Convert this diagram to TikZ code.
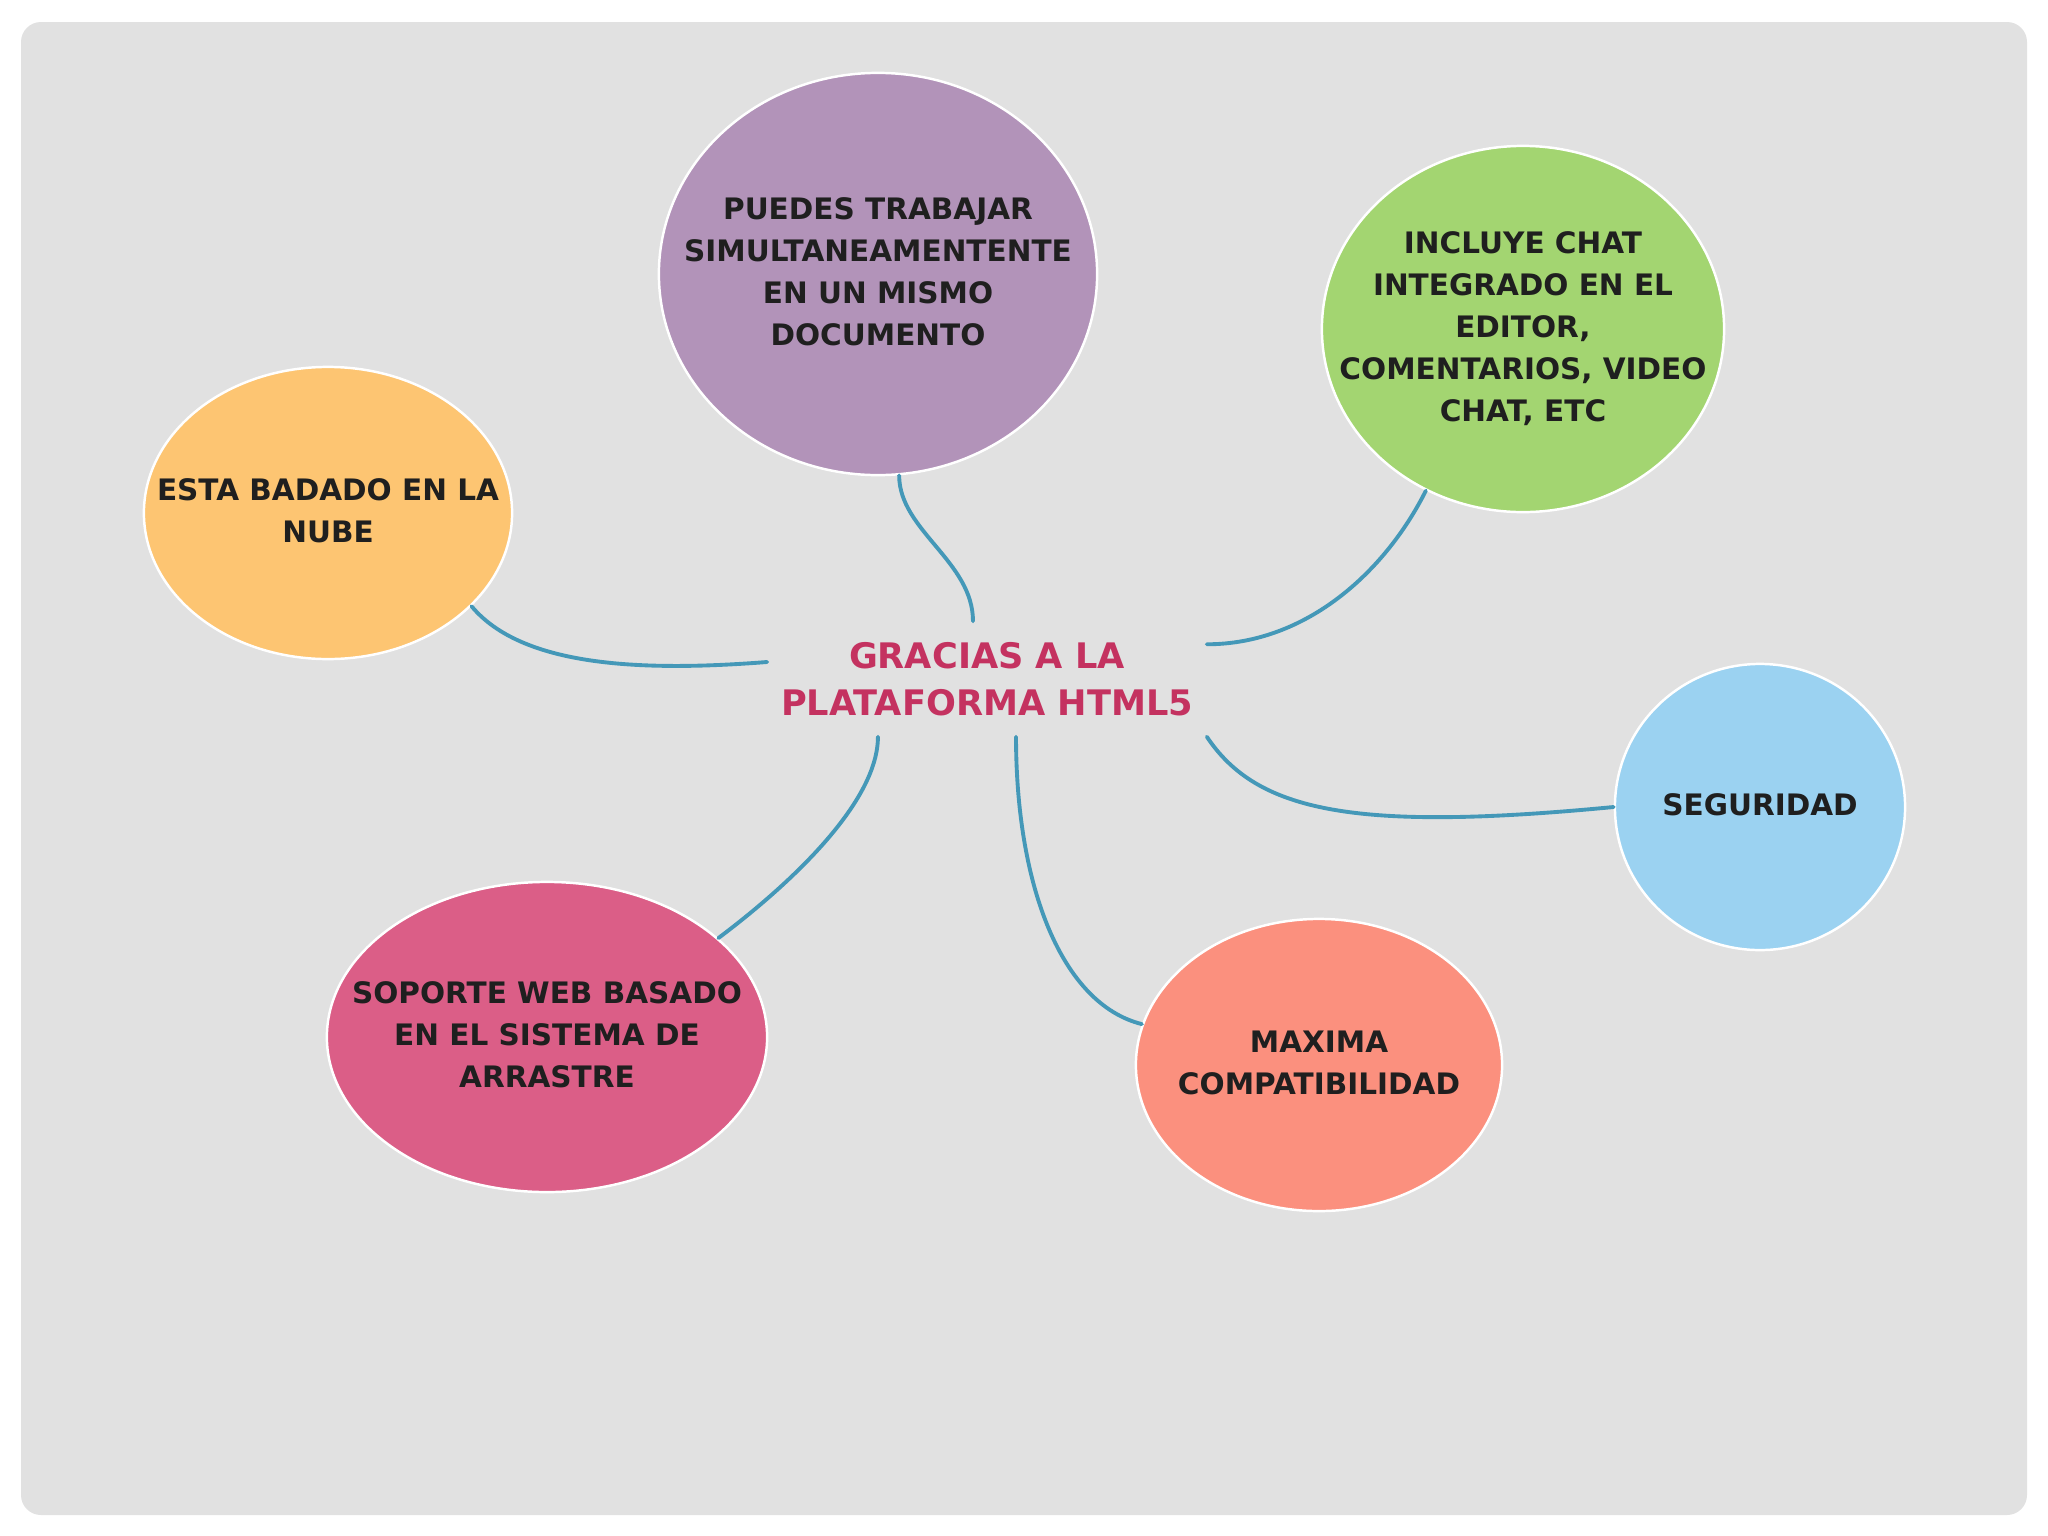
\documentclass[tikz,border=0pt]{standalone}
\usepackage{fontspec}
\setmainfont{DejaVu Sans}
\usepackage{tikz}
\usetikzlibrary{shapes.geometric}
\definecolor{fondo}{HTML}{E1E1E1}
\definecolor{linea}{HTML}{4498B8}
\definecolor{titulo}{HTML}{C43260}
\definecolor{morado}{HTML}{B293B9}
\definecolor{verde}{HTML}{A3D571}
\definecolor{naranja}{HTML}{FDC572}
\definecolor{celeste}{HTML}{9BD2F1}
\definecolor{rosa}{HTML}{DB5E87}
\definecolor{salmon}{HTML}{FB907E}
\newcommand{\burbuja}[1]{\makebox[0pt][c]{\begin{tabular}{@{}c@{}}#1\end{tabular}}}

\begin{document}
\begin{tikzpicture}[x=0.01cm,y=-0.01cm,
			bubble/.style={ellipse,draw=white,line width=0.7pt,inner sep=0pt,text=black!88,font=\bfseries\fontsize{8.4}{11.9}\selectfont},
			hub/.style={rectangle,inner sep=0pt,minimum width=4.38cm,minimum height=1.14cm,align=center,text=titulo,font=\bfseries\fontsize{10}{13.4}\selectfont},
			link/.style={draw=linea,line width=1.1pt,line cap=round}]
			\useasboundingbox (0,0) rectangle (2048,1536);
			\fill[white] (0,0) rectangle (2048,1536);
			\fill[fondo, rounded corners=0.2cm] (21,22) rectangle (2027,1515);
			\node[hub] (hub) at (987,679) {GRACIAS A LA\\PLATAFORMA HTML5};
			\node[bubble, fill=morado, minimum width=4.38cm, minimum height=4.02cm] (trabajar) at (878,274) {\burbuja{PUEDES TRABAJAR\\SIMULTANEAMENTENTE\\EN UN MISMO\\DOCUMENTO}};
			\node[bubble, fill=verde, minimum width=4.02cm, minimum height=3.66cm] (chat) at (1523,329) {\burbuja{INCLUYE CHAT\\INTEGRADO EN EL\\EDITOR,\\COMENTARIOS, VIDEO\\CHAT, ETC}};
			\node[bubble, fill=naranja, minimum width=3.68cm, minimum height=2.92cm] (nube) at (328,513) {\burbuja{ESTA BADADO EN LA\\NUBE}};
			\node[bubble, fill=celeste, minimum width=2.90cm, minimum height=2.86cm] (seguridad) at (1760,807) {\burbuja{SEGURIDAD}};
			\node[bubble, fill=rosa, minimum width=4.40cm, minimum height=3.10cm] (arrastre) at (547,1037) {\burbuja{SOPORTE WEB BASADO\\EN EL SISTEMA DE\\ARRASTRE}};
			\node[bubble, fill=salmon, minimum width=3.66cm, minimum height=2.92cm] (compat) at (1319,1065) {\burbuja{MAXIMA\\COMPATIBILIDAD}};
			\draw[link] (trabajar.-84) .. controls +(0,55) and +(0,-60) .. ([xshift=-0.14cm]hub.north);
			\draw[link] (chat.-121) .. controls +(-40,80) and +(100,0) .. ([yshift=-0.23cm]hub.north east);
			\draw[link] (nube.-33) .. controls +(50,60) and +(-128,10) .. ([yshift=0.17cm]hub.west);
			\draw[link] (hub.south east) .. controls +(50,75) and +(-260,25) .. (seguridad.west);
			\draw[link] ([xshift=-1.09cm]hub.south) .. controls +(0,70) and +(60,-45) .. (arrastre.30);
			\draw[link] ([xshift=0.29cm]hub.south) .. controls +(0,150) and +(-80,-20) .. (compat.167);
			\end{tikzpicture}
\end{document}
